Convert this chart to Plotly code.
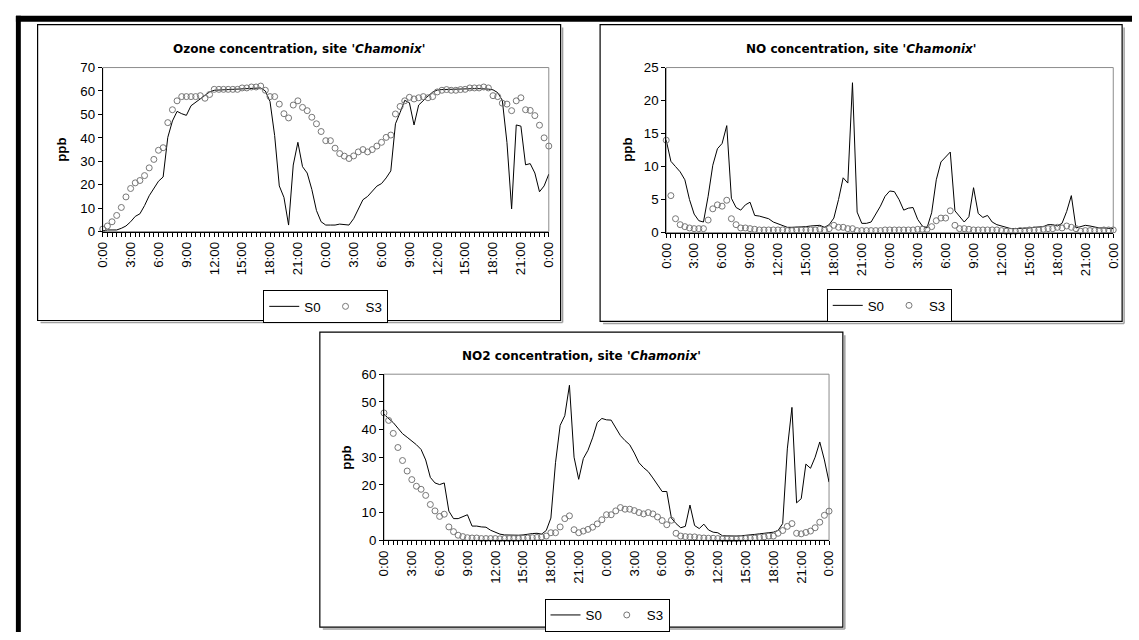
import plotly.graph_objects as go

# ---------------- data ----------------
# time axis: hours elapsed since first 0:00, half-hourly samples over two days
HOURS = [i * 0.5 for i in range(97)]
TICK_HOURS = [0, 3, 6, 9, 12, 15, 18, 21, 24, 27, 30, 33, 36, 39, 42, 45, 48]
TICK_LABELS = ["0:00", "3:00", "6:00", "9:00", "12:00", "15:00", "18:00", "21:00",
               "0:00", "3:00", "6:00", "9:00", "12:00", "15:00", "18:00", "21:00", "0:00"]

O3_S0 = [0.3, 0.7, 0.7, 0.7, 1.4, 2.4, 4.2, 6.5, 7.6, 11.1,
         15.3, 18.7, 21.5, 23.3, 40.2, 47.2, 51.3, 50.3, 49.6, 53.7,
         55.2, 56.9, 58.3, 59.6, 60.3, 60.5, 60.6, 60.6, 60.7, 60.8,
         60.9, 61.0, 61.1, 61.2, 61.3, 60.0, 55.5, 41.0, 19.5, 14.6,
         2.8, 28.4, 38.1, 27.7, 25.0, 18.0, 9.0, 4.2, 2.8, 2.8,
         2.8, 3.2, 2.9, 2.8, 5.5, 9.7, 13.6, 15.0, 17.3, 19.4,
         20.5, 22.9, 25.9, 46.0, 50.8, 56.0, 55.0, 45.5, 54.0, 56.0,
         57.8, 59.5, 60.4, 60.6, 60.7, 60.7, 60.8, 60.8, 60.9, 61.0,
         61.0, 61.0, 61.0, 60.8, 60.5, 59.3, 56.0, 38.0, 9.7, 45.5,
         45.0, 28.5, 29.0, 25.0, 17.0, 19.5, 24.5]
O3_S3 = [1.1, 2.4, 4.2, 6.9, 10.3, 14.8, 18.4, 20.8, 21.8, 23.9,
         27.2, 30.8, 34.7, 35.8, 46.5, 52.0, 55.8, 57.6, 57.6, 57.6,
         57.6, 58.0, 56.9, 58.5, 60.7, 60.7, 60.7, 60.7, 60.7, 60.7,
         61.3, 61.3, 61.7, 61.7, 62.1, 60.3, 57.6, 57.6, 54.4, 50.3,
         48.5, 54.0, 55.8, 53.0, 51.6, 48.8, 46.0, 42.7, 38.8, 38.8,
         35.6, 33.3, 32.2, 31.2, 32.3, 34.0, 35.0, 34.0, 35.0, 36.5,
         38.1, 40.2, 41.2, 50.2, 53.4, 55.8, 57.3, 56.6, 57.1, 57.6,
         57.1, 57.6, 59.6, 60.3, 60.6, 60.3, 60.3, 60.6, 60.7, 61.3,
         61.3, 61.3, 61.7, 61.3, 58.0, 57.6, 54.8, 54.4, 51.6, 55.8,
         57.1, 52.0, 51.7, 49.5, 45.4, 40.0, 36.5]

NO_S0 = [14.0, 10.8, 10.0, 9.2, 8.0, 5.0, 2.8, 1.8, 1.6, 5.5,
         10.2, 12.7, 13.5, 16.2, 5.2, 3.8, 3.4, 4.2, 4.6, 2.6,
         2.5, 2.3, 2.1, 1.6, 1.3, 1.0, 0.8, 0.8, 0.8, 0.8,
         0.9, 1.0, 1.0, 1.1, 0.8, 1.2, 2.2, 5.0, 8.3, 7.5,
         22.7, 3.1, 1.4, 1.4, 1.6, 2.8, 4.0, 5.5, 6.3, 6.2,
         5.0, 3.4, 3.7, 3.8, 2.0, 1.0, 0.7, 3.0, 8.0, 10.7,
         11.5, 12.2, 3.3, 2.4, 1.6, 2.4, 6.8, 2.9, 2.3, 2.6,
         1.6, 1.2, 1.0, 0.7, 0.6, 0.6, 0.6, 0.6, 0.7, 0.8,
         0.9, 0.9, 1.2, 1.2, 1.0, 1.4, 3.2, 5.6, 0.7, 0.9,
         1.1, 1.0, 0.8, 0.7, 0.7, 0.6, 0.6]
NO_S3 = [14.0, 5.6, 2.1, 1.2, 0.9, 0.7, 0.6, 0.6, 0.6, 1.9,
         3.6, 4.2, 4.0, 4.9, 2.1, 1.2, 0.7, 0.7, 0.6, 0.5,
         0.4, 0.4, 0.4, 0.4, 0.4, 0.4, 0.3, 0.3, 0.4, 0.4,
         0.4, 0.4, 0.4, 0.5, 0.4, 0.6, 1.1, 0.8, 0.8, 0.6,
         0.6, 0.3, 0.3, 0.3, 0.3, 0.3, 0.3, 0.4, 0.4, 0.4,
         0.4, 0.4, 0.4, 0.4, 0.5, 0.5, 0.5, 0.9, 1.8, 2.2,
         2.2, 3.3, 1.1, 0.6, 0.6, 0.5, 0.4, 0.4, 0.4, 0.4,
         0.4, 0.4, 0.3, 0.2, 0.2, 0.2, 0.3, 0.3, 0.4, 0.4,
         0.4, 0.5, 0.6, 0.6, 0.8, 0.7, 1.0, 0.8, 0.6, 0.2,
         0.3, 0.3, 0.3, 0.3, 0.4, 0.4, 0.4]

NO2_S0 = [45.5, 44.0, 42.5, 40.5, 38.5, 37.2, 36.0, 34.5, 32.8, 29.0,
          22.7, 20.7, 20.1, 20.7, 10.5, 7.8, 7.8, 8.6, 9.2, 5.1,
          5.1, 4.8, 4.7, 3.6, 3.0, 2.2, 1.9, 1.8, 1.8, 1.8,
          1.9, 2.2, 2.4, 2.5, 2.2, 3.5, 8.0, 28.0, 41.5, 45.0,
          56.0, 30.0, 22.0, 29.5, 32.5, 37.0, 42.5, 44.0, 43.5, 43.4,
          40.5, 37.8, 36.0, 34.5, 31.5, 28.0, 26.2, 24.8, 22.5, 20.0,
          17.6, 17.6, 8.0, 6.0, 4.5, 5.0, 12.7, 5.3, 4.2, 5.8,
          3.7, 2.9, 2.7, 1.6, 1.5, 1.5, 1.5, 1.6, 1.7, 1.9,
          2.1, 2.3, 2.5, 2.7, 2.9, 3.5, 6.0, 33.0, 48.0, 13.5,
          15.0, 27.5, 26.0, 30.0, 35.5, 29.0, 21.0]
NO2_S3 = [46.0, 43.3, 38.6, 33.5, 28.8, 25.0, 21.9, 19.5, 18.4, 16.2,
          12.9, 10.6, 8.6, 9.4, 4.8, 3.1, 1.8, 1.3, 0.9, 0.8,
          0.8, 0.6, 0.6, 0.6, 0.6, 0.5, 0.6, 0.6, 0.6, 0.6,
          0.7, 0.8, 0.9, 1.0, 1.2, 1.5, 2.7, 2.7, 4.8, 7.8,
          8.8, 3.8, 2.7, 3.3, 3.9, 4.7, 5.9, 7.4, 9.2, 9.2,
          10.6, 11.8, 11.2, 11.2, 10.7, 10.0, 9.5, 10.0, 9.5, 8.4,
          7.1, 5.6, 7.2, 2.5, 1.5, 1.3, 1.2, 1.2, 0.9, 0.8,
          0.7, 0.7, 0.6, 0.5, 0.5, 0.5, 0.5, 0.6, 0.6, 0.7,
          0.8, 1.0, 1.2, 1.5, 1.5, 2.5, 3.5, 5.0, 6.0, 2.5,
          2.3, 2.8, 3.3, 4.5, 6.5, 9.0, 10.5]

TITLES = ["Ozone concentration, site '<i>Chamonix</i>'",
          "NO concentration, site '<i>Chamonix</i>'",
          "NO2 concentration, site '<i>Chamonix</i>'"]
Y_MAX = [70, 25, 60]
Y_STEP = [10, 5, 10]
SERIES = [(O3_S0, O3_S3), (NO_S0, NO_S3), (NO2_S0, NO2_S3)]
SERIES_NAMES = ["S0", "S3"]

# ---------------- layout helpers (pixels -> paper) ----------------
W, H = 1139, 640
def px(x):
    return x / W
def py(y):
    return 1 - y / H

# panel geometry in pixels: border box, plot box, legend centre/top, title y, y-title x
PANELS = [
    dict(box=(30, 18, 560, 321), plot=(96, 62, 548, 230), leg=(322, 290), ty=43, yl=54),
    dict(box=(600, 18, 1129, 322), plot=(667, 62, 1120, 231), leg=(893, 289), ty=43, yl=627),
    dict(box=(316, 333, 846, 635), plot=(381, 376, 832, 546), leg=(607, 606), ty=357, yl=343),
]

TICK_FONT = dict(family="Liberation Sans, Arial, sans-serif", size=13.3, color="black")
TITLE_FONT = dict(family="Comic Sans MS, DejaVu Sans, sans-serif", size=12, color="black")

fig = go.Figure()
layout = dict(width=W, height=H, margin=dict(l=0, r=0, t=0, b=0),
              paper_bgcolor="white", plot_bgcolor="white")
shapes = []
annotations = []

for k, p in enumerate(PANELS):
    sfx = "" if k == 0 else str(k + 1)
    xa, ya = "x" + sfx, "y" + sfx
    lg = "legend" + sfx
    s0, s3 = SERIES[k]
    fig.add_trace(go.Scatter(x=HOURS, y=s0, mode="lines", name=SERIES_NAMES[0],
                             line=dict(color="black", width=1),
                             xaxis=xa, yaxis=ya, legend=lg, cliponaxis=False))
    fig.add_trace(go.Scatter(x=HOURS, y=s3, mode="markers", name=SERIES_NAMES[1],
                             marker=dict(symbol="circle-open", size=6, color="#777777",
                                         line=dict(width=1, color="#777777")),
                             xaxis=xa, yaxis=ya, legend=lg, cliponaxis=False))
    x0, y0, x1, y1 = p["plot"]
    layout["xaxis" + sfx] = dict(
        domain=[px(x0), px(x1)], anchor=ya, range=[0, 48],
        tickmode="array", tickvals=TICK_HOURS, ticktext=TICK_LABELS, tickangle=-90,
        ticks="outside", ticklen=4, tickcolor="black", tickwidth=1,
        minor=dict(tickmode="linear", tick0=0, dtick=0.5, ticks="outside",
                   ticklen=4, tickcolor="black", tickwidth=1, showgrid=False),
        showline=True, linecolor="black", linewidth=1,
        showgrid=False, zeroline=False, tickfont=TICK_FONT, fixedrange=True)
    layout["yaxis" + sfx] = dict(
        domain=[py(y1), py(y0)], anchor=xa, range=[0, Y_MAX[k]], dtick=Y_STEP[k], tick0=0,
        ticks="outside", ticklen=4, tickcolor="black", tickwidth=1,
        showline=True, linecolor="black", linewidth=1,
        showgrid=False, zeroline=False, tickfont=TICK_FONT, fixedrange=True)
    lx, ly = p["leg"]
    layout[lg] = dict(orientation="h", x=px(lx), y=py(ly), xanchor="center", yanchor="top",
                      xref="paper", yref="paper",
                      bordercolor="black", borderwidth=1, bgcolor="white",
                      font=dict(family="Liberation Sans, Arial, sans-serif", size=13.3,
                                color="black"),
                      itemwidth=30, tracegroupgap=0)
    # plot-area frame (grey)
    shapes.append(dict(type="rect", xref=xa + " domain", yref=ya + " domain",
                       x0=0, x1=1, y0=0, y1=1, line=dict(color="#8c8c8c", width=1),
                       layer="below"))
    # panel border with a faint shadow
    bx0, by0, bx1, by1 = p["box"]
    shapes.append(dict(type="line", xref="paper", yref="paper",
                       x0=px(bx1 + 2), x1=px(bx1 + 2), y0=py(by0 + 3), y1=py(by1 + 2),
                       line=dict(color="#a0a0a0", width=1.5)))
    shapes.append(dict(type="line", xref="paper", yref="paper",
                       x0=px(bx0 + 3), x1=px(bx1 + 2), y0=py(by1 + 2), y1=py(by1 + 2),
                       line=dict(color="#a0a0a0", width=1.5)))
    shapes.append(dict(type="rect", xref="paper", yref="paper",
                       x0=px(bx0), x1=px(bx1), y0=py(by1), y1=py(by0),
                       line=dict(color="black", width=1.2)))
    # title
    annotations.append(dict(text="<b>" + TITLES[k] + "</b>", xref="paper", yref="paper",
                            x=px((bx0 + bx1) / 2), y=py(p["ty"]), xanchor="center",
                            yanchor="middle", showarrow=False, font=TITLE_FONT))
    # y-axis title
    annotations.append(dict(text="<b>ppb</b>", xref="paper", yref="paper",
                            x=px(p["yl"]), y=py((y0 + y1) / 2), xanchor="center",
                            yanchor="middle", textangle=-90, showarrow=False,
                            font=dict(family="Liberation Sans, Arial, sans-serif",
                                      size=13.3, color="black")))

# thick black page frame (left and top)
shapes.append(dict(type="rect", xref="paper", yref="paper", x0=px(8), x1=px(13),
                   y0=0, y1=py(9), fillcolor="black", line=dict(width=0)))
shapes.append(dict(type="rect", xref="paper", yref="paper", x0=px(8), x1=1,
                   y0=py(15), y1=py(9), fillcolor="black", line=dict(width=0)))

layout["shapes"] = shapes
layout["annotations"] = annotations
fig.update_layout(**layout)
fig.write_html(
    "out.html",
    config={"displayModeBar": False, "staticPlot": True},
    post_script=("document.body.style.margin='0px';"
                 "document.body.style.padding='0px';"
                 "document.body.style.overflow='hidden';"
                 "var d=document.getElementById('{plot_id}');"
                 "d.style.position='absolute';d.style.left='0px';d.style.top='0px';"))
